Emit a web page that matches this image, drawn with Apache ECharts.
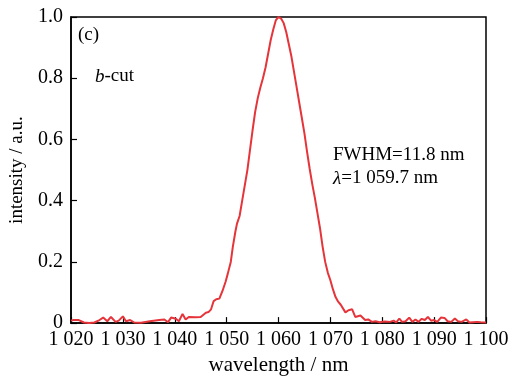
<!DOCTYPE html>
<html>
<head>
<meta charset="utf-8">
<script src="https://cdn.jsdelivr.net/npm/echarts@6/dist/echarts.min.js"></script>
<style>html,body{margin:0;padding:0;background:#fff}#c{width:513px;height:381px}</style>
</head>
<body>
<div id="c"></div>
<script>
const wavelength = [1020,1020.5,1021.5,1022.5,1023.5,1024.5,1025.5,1026.2,1027,1027.7,1028.6,1029.2,1030,1030.6,1031.4,1032.2,1033.5,1035.2,1037,1038,1038.7,1039.3,1040.2,1040.8,1041.5,1042.1,1042.7,1044,1045,1046,1046.5,1047,1047.5,1048,1048.6,1049.2,1049.8,1050.2,1050.8,1051.2,1051.7,1052,1052.5,1053,1053.5,1054,1054.5,1055,1055.5,1056,1056.5,1057,1057.5,1058,1058.5,1059,1059.5,1060,1060.5,1061,1061.5,1062,1062.5,1063,1063.5,1064,1064.5,1065,1065.5,1066,1066.5,1067,1067.5,1068,1068.5,1069,1069.5,1070,1070.5,1071,1071.5,1072,1072.9,1073.5,1074.2,1074.8,1075.8,1076.7,1077.3,1078,1078.7,1079.5,1080.5,1081.5,1082.2,1082.7,1083.3,1083.8,1084.5,1085.2,1085.8,1086.4,1087,1087.6,1088.2,1088.8,1089.4,1090,1090.6,1091.3,1092,1092.6,1093.3,1094,1094.6,1095.3,1096.2,1096.8,1097.5,1098.3,1099,1100];
const intensity = [0.008,0.01,0.01,0.002,0,0.002,0.01,0.018,0.006,0.02,0.004,0.008,0.022,0.006,0.01,0.002,0.001,0.006,0.01,0.012,0.003,0.018,0.014,0.006,0.03,0.012,0.02,0.019,0.02,0.034,0.036,0.045,0.072,0.078,0.08,0.105,0.135,0.16,0.2,0.25,0.3,0.325,0.35,0.4,0.45,0.5,0.565,0.63,0.69,0.735,0.77,0.8,0.835,0.88,0.925,0.96,0.99,1.0,0.995,0.98,0.95,0.91,0.87,0.82,0.77,0.72,0.67,0.62,0.56,0.505,0.455,0.41,0.36,0.31,0.25,0.2,0.165,0.14,0.11,0.085,0.07,0.06,0.035,0.042,0.045,0.02,0.025,0.01,0.012,0.004,0.006,0.003,0.005,0.004,0.008,0.002,0.015,0.004,0.006,0.018,0.004,0.012,0.004,0.014,0.01,0.02,0.008,0.01,0.004,0.018,0.017,0.006,0.004,0.015,0.006,0.004,0.012,0.002,0.003,0.004,0.003,0.002];
const xTicks = [1020,1030,1040,1050,1060,1070,1080,1090,1100];
const yTicks = [0,0.2,0.4,0.6,0.8,1.0];

const font = '"Liberation Serif", "Times New Roman", serif';
const chart = echarts.init(document.getElementById('c'));
chart.setOption({
  animation: false,
  backgroundColor: '#fff',
  grid: {left: 70, right: 27, top: 17, bottom: 55, show: true, borderColor: '#000', borderWidth: 1.5, backgroundColor: 'transparent'},
  xAxis: {
    type: 'value', min: 1020, max: 1100, interval: 10,
    name: 'wavelength / nm', nameLocation: 'middle', nameGap: 31,
    nameTextStyle: {fontFamily: font, fontSize: 21, color: '#000'},
    axisLine: {lineStyle: {color: '#000', width: 1.5}},
    axisTick: {inside: true, length: 6, lineStyle: {color: '#000', width: 1.2}},
    axisLabel: {fontFamily: font, fontSize: 20, color: '#000', margin: 7,
      formatter: v => { const s = String(v); return s[0] + ' ' + s.slice(1); }},
    splitLine: {show: false}
  },
  yAxis: {
    type: 'value', min: 0, max: 1, interval: 0.2,
    name: 'intensity / a.u.', nameLocation: 'middle', nameGap: 44,
    nameTextStyle: {fontFamily: font, fontSize: 19, color: '#000'},
    axisLine: {show: true, lineStyle: {color: '#000', width: 1.5}},
    axisTick: {show: true, inside: true, length: 6, lineStyle: {color: '#000', width: 1.2}},
    axisLabel: {fontFamily: font, fontSize: 20, color: '#000', margin: 8,
      formatter: v => v === 0 ? '0' : v.toFixed(1)},
    splitLine: {show: false}
  },
  series: [{
    type: 'line', data: wavelength.map((x, i) => [x, intensity[i]]),
    showSymbol: false, symbol: 'none',
    lineStyle: {color: '#e5343a', width: 2}
  }],
  graphic: [
    {type: 'text', left: 78, top: 26, style: {text: '(c)', font: '19px ' + font, fill: '#000'}},
    {type: 'text', left: 95, top: 67, style: {text: '{i|b}-cut', font: '19px ' + font, fill: '#000',
      rich: {i: {fontStyle: 'italic', fontFamily: font, fontSize: 19}}}},
    {type: 'text', left: 333, top: 146, style: {text: 'FWHM=11.8 nm', font: '19px ' + font, fill: '#000'}},
    {type: 'text', left: 333, top: 169, style: {text: '{i|λ}=1 059.7 nm', font: '19px ' + font, fill: '#000',
      rich: {i: {fontStyle: 'italic', fontFamily: font, fontSize: 19}}}}
  ]
});
</script>
</body>
</html>
